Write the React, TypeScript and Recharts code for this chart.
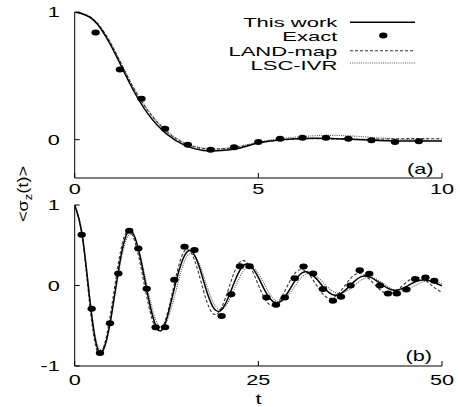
import React from 'react';
import { ComposedChart, Line, Scatter, XAxis, YAxis } from 'recharts';

const FONT = '"Liberation Sans", Arial, Helvetica, sans-serif';

// ---------- Panel (a) ----------
const topT = [0, 0.5, 1, 1.5, 2, 2.5, 3, 3.5, 4, 4.5, 5, 5.5, 6, 6.5, 7, 7.5, 8, 8.5, 9, 9.5, 10];
const topThisWork = [1.0, 0.94, 0.73, 0.44, 0.2, 0.045, -0.045, -0.085, -0.085, -0.065, -0.025, -0.005, 0.008, 0.012, 0.01, 0.004, -0.003, -0.008, -0.01, -0.01, -0.01];
const topLandMap = [1.0, 0.945, 0.745, 0.46, 0.225, 0.065, -0.03, -0.07, -0.072, -0.055, -0.025, -0.005, 0.005, 0.008, 0.006, 0.004, 0.004, 0.006, 0.008, 0.008, 0.008];
const topLscIvr = [1.0, 0.945, 0.745, 0.465, 0.23, 0.07, -0.025, -0.065, -0.07, -0.05, -0.02, 0.005, 0.02, 0.03, 0.034, 0.03, 0.02, 0.01, 0.002, -0.003, -0.005];
const topExactT = [0.57, 1.23, 1.82, 2.46, 3.08, 3.7, 4.34, 5.0, 5.59, 6.2, 6.84, 7.45, 8.08, 8.72, 9.37];
const topExactY = [0.84, 0.55, 0.32, 0.086, -0.04, -0.079, -0.06, -0.019, 0.008, 0.016, 0.016, 0.008, -0.005, -0.019, -0.013];
const topXTicks = [0, 5, 10];
const topYTicks = [0, 1];
const topXDomain = [0, 10];
const topYDomain = [-0.3, 1];

// ---------- Panel (b) ----------
const botT = [0, 1, 2, 3, 4, 5, 6, 7, 8, 9, 10, 11, 12, 13, 14, 15, 16, 17, 18, 19, 20, 21, 22, 23, 24, 25, 26, 27, 28, 29, 30, 31, 32, 33, 34, 35, 36, 37, 38, 39, 40, 41, 42, 43, 44, 45, 46, 47, 48, 49, 50];
const botThisWork = [1.0, 0.64, -0.13, -0.75, -0.78, -0.37, 0.21, 0.62, 0.64, 0.32, -0.14, -0.49, -0.54, -0.25, 0.12, 0.38, 0.42, 0.22, -0.08, -0.29, -0.3, -0.13, 0.1, 0.25, 0.24, 0.1, -0.08, -0.2, -0.2, -0.09, 0.06, 0.16, 0.155, 0.075, -0.035, -0.11, -0.11, -0.045, 0.045, 0.11, 0.11, 0.065, 0.0, -0.05, -0.055, -0.02, 0.03, 0.065, 0.065, 0.035, -0.005];
const botLandMap = [1.0, 0.622, -0.203, -0.801, -0.75, -0.281, 0.307, 0.658, 0.595, 0.234, -0.223, -0.525, -0.51, -0.207, 0.191, 0.435, 0.384, 0.112, -0.204, -0.359, -0.272, -0.025, 0.222, 0.309, 0.212, 0.008, -0.183, -0.249, -0.167, 0.002, 0.155, 0.198, 0.126, -0.008, -0.126, -0.158, -0.093, 0.026, 0.126, 0.147, 0.09, -0.004, -0.082, -0.097, -0.05, 0.028, 0.089, 0.095, 0.046, -0.029, -0.082];
const botLscIvr = [1.0, 0.661, -0.1, -0.711, -0.747, -0.375, 0.163, 0.564, 0.614, 0.35, -0.069, -0.419, -0.514, -0.33, 0.012, 0.312, 0.396, 0.256, -0.005, -0.233, -0.297, -0.189, 0.012, 0.188, 0.237, 0.149, -0.014, -0.158, -0.198, -0.131, -0.005, 0.11, 0.15, 0.108, 0.02, -0.065, -0.1, -0.072, -0.004, 0.067, 0.1, 0.081, 0.025, -0.037, -0.069, -0.058, -0.017, 0.03, 0.058, 0.053, 0.023];
const botExactT = [0.95, 2.31, 3.44, 4.8, 5.94, 7.43, 8.66, 9.8, 11.02, 12.3, 13.56, 14.95, 16.3, 20.0, 21.3, 22.5, 23.8, 26.1, 27.4, 28.6, 29.95, 31.15, 32.45, 33.8, 35.15, 36.25, 37.55, 38.8, 40.1, 41.55, 42.65, 43.85, 45.15, 46.35, 47.75, 48.95];
const botExactY = [0.63, -0.29, -0.84, -0.47, 0.15, 0.68, 0.46, -0.04, -0.52, -0.52, 0.07, 0.48, 0.44, -0.38, -0.11, 0.24, 0.24, -0.15, -0.24, -0.15, 0.09, 0.235, 0.15, -0.045, -0.19, -0.14, 0.0, 0.19, 0.145, 0.0, -0.1, -0.1, -0.05, 0.08, 0.1, 0.06];
const botXTicks = [0, 25, 50];
const botYTicks = [-1, 0, 1];
const botXDomain = [0, 50];
const botYDomain = [-1, 1];

const legendLabels = ['This work', 'Exact', 'LAND-map', 'LSC-IVR'];

const toPts = (ts: number[], ys: number[]) => ts.map((t, i) => ({ t, y: ys[i] }));

const SOLID = { stroke: '#000', strokeWidth: 1.5 };
const DASHED = { stroke: '#333', strokeWidth: 1.1, strokeDasharray: '3 2' };
const DOTTED = { stroke: '#555', strokeWidth: 1.1, strokeDasharray: '1 1.2' };

const SX = 1.55; // horizontal stretch of the original's lettering

const makeXTick = (dy: number) => (props: any) => {
  const { x, y, payload } = props;
  return (
    <g>
      <line x1={x} x2={x} y1={y} y2={y - 5} stroke="#000" strokeWidth={1} />
      <text
        transform={`translate(${x},${y + dy}) scale(${SX},1)`}
        textAnchor="middle"
        fontSize={14}
        fontFamily={FONT}
        fill="#000"
      >
        {payload.value}
      </text>
    </g>
  );
};

const XTickTop = (props: any) => {
  const { x, y } = props;
  return <line x1={x} x2={x} y1={y} y2={y + 5} stroke="#000" strokeWidth={1} />;
};

const YTickLeft = (props: any) => {
  const { x, y, payload } = props;
  return (
    <g>
      <line x1={x} x2={x + 5} y1={y} y2={y} stroke="#000" strokeWidth={1} />
      <text
        transform={`translate(${x - 15},${y + 5}) scale(${SX},1)`}
        textAnchor="end"
        fontSize={14}
        fontFamily={FONT}
        fill="#000"
      >
        {payload.value}
      </text>
    </g>
  );
};

const YTickRight = (props: any) => {
  const { x, y } = props;
  return <line x1={x} x2={x - 5} y1={y} y2={y} stroke="#000" strokeWidth={1} />;
};

const Ellipse = (p: any) => <ellipse cx={p.cx} cy={p.cy} rx={4.2} ry={3} fill="#000" />;

type PanelProps = {
  top: number;
  height: number;
  marginTop: number;
  xAxisHeight: number;
  tickDy: number;
  xDomain: number[];
  yDomain: number[];
  xTicks: number[];
  yTicks: number[];
  solid: { t: number; y: number }[];
  dashed: { t: number; y: number }[];
  dotted: { t: number; y: number }[];
  exact: { t: number; y: number }[];
};

const Panel = (p: PanelProps) => (
  <div style={{ position: 'absolute', left: 0, top: p.top }}>
    <ComposedChart
      width={460}
      height={p.height}
      margin={{ top: p.marginTop, right: 18, bottom: 0, left: 14.7 }}
    >
      <XAxis
        dataKey="t"
        type="number"
        domain={p.xDomain}
        ticks={p.xTicks}
        interval={0}
        allowDataOverflow
        height={p.xAxisHeight}
        tickSize={0}
        tickMargin={0}
        tick={makeXTick(p.tickDy)}
        axisLine={{ stroke: '#000', strokeWidth: 1 }}
      />
      <XAxis
        xAxisId="top"
        orientation="top"
        dataKey="t"
        type="number"
        domain={p.xDomain}
        ticks={p.xTicks}
        interval={0}
        allowDataOverflow
        height={0}
        tickSize={0}
        tickMargin={0}
        tick={XTickTop}
        axisLine={{ stroke: '#000', strokeWidth: 1 }}
      />
      <YAxis
        dataKey="y"
        type="number"
        domain={p.yDomain}
        ticks={p.yTicks}
        interval={0}
        allowDataOverflow
        width={60}
        tickSize={0}
        tickMargin={0}
        tick={YTickLeft}
        axisLine={{ stroke: '#000', strokeWidth: 1 }}
      />
      <YAxis
        yAxisId="right"
        orientation="right"
        dataKey="y"
        type="number"
        domain={p.yDomain}
        ticks={p.yTicks}
        interval={0}
        allowDataOverflow
        width={0}
        tickSize={0}
        tickMargin={0}
        tick={YTickRight}
        axisLine={{ stroke: '#000', strokeWidth: 1 }}
      />
      <Line data={p.dotted} dataKey="y" type="natural" dot={false} isAnimationActive={false} {...DOTTED} />
      <Line data={p.dashed} dataKey="y" type="natural" dot={false} isAnimationActive={false} {...DASHED} />
      <Line data={p.solid} dataKey="y" type="natural" dot={false} isAnimationActive={false} {...SOLID} />
      <Scatter data={p.exact} dataKey="y" fill="#000" shape={Ellipse} isAnimationActive={false} />
    </ComposedChart>
  </div>
);

const LEG_SX = 1.72;
const LEG_FS = 12.8;
const legendRows = [26.8, 41.2, 55.6, 70.0];

export default function App() {
  return (
    <div
      style={{
        position: 'absolute',
        left: 0,
        top: 0,
        width: 460,
        height: 407,
        background: '#fff',
        fontFamily: FONT,
        overflow: 'hidden',
      }}
    >
      <Panel
        top={0}
        height={200}
        marginTop={12}
        xAxisHeight={22}
        tickDy={16}
        xDomain={topXDomain}
        yDomain={topYDomain}
        xTicks={topXTicks}
        yTicks={topYTicks}
        solid={toPts(topT, topThisWork)}
        dashed={toPts(topT, topLandMap)}
        dotted={toPts(topT, topLscIvr)}
        exact={toPts(topExactT, topExactY)}
      />
      <Panel
        top={198}
        height={209}
        marginTop={7}
        xAxisHeight={41}
        tickDy={19}
        xDomain={botXDomain}
        yDomain={botYDomain}
        xTicks={botXTicks}
        yTicks={botYTicks}
        solid={toPts(botT, botThisWork)}
        dashed={toPts(botT, botLandMap)}
        dotted={toPts(botT, botLscIvr)}
        exact={toPts(botExactT, botExactY)}
      />
      <svg
        width={460}
        height={407}
        style={{ position: 'absolute', left: 0, top: 0, pointerEvents: 'none' }}
        fontFamily={FONT}
        fontSize={14}
      >
        {/* legend */}
        {legendLabels.map((lab, i) => (
          <text
            key={lab}
            transform={`translate(337.3,${legendRows[i]}) scale(${LEG_SX},1)`}
            textAnchor="end"
            fontSize={LEG_FS}
            fill="#000"
          >
            {lab}
          </text>
        ))}
        <line x1={350} x2={415} y1={22.3} y2={22.3} {...SOLID} />
        <ellipse cx={383.3} cy={35.5} rx={4.2} ry={3} fill="#000" />
        <line x1={350} x2={415} y1={50.7} y2={50.7} {...DASHED} />
        <line x1={350} x2={415} y1={63} y2={63} {...DOTTED} />
        {/* panel labels */}
        <text transform={`translate(433.5,173.5) scale(${SX},1)`} textAnchor="end" fill="#000">(a)</text>
        <text transform={`translate(432,361) scale(${SX},1)`} textAnchor="end" fill="#000">(b)</text>
        {/* axis titles */}
        <text transform={`translate(258.5,404) scale(${SX},1)`} textAnchor="middle" fill="#000">t</text>
        <text transform="translate(28,194) rotate(-90) scale(1.3,1)" textAnchor="middle" fill="#000">
          {'<σ'}
          <tspan dy={4} fontSize={10}>z</tspan>
          <tspan dy={-4}>{'(t)>'}</tspan>
        </text>
      </svg>
    </div>
  );
}
